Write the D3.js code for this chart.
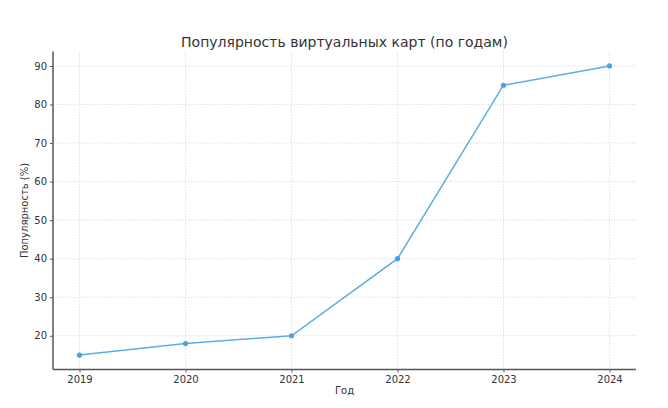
<!DOCTYPE html>
<html><head><meta charset="utf-8">
<script src="https://cdn.jsdelivr.net/npm/d3@7"></script>
<style>body{margin:0;background:#fff}svg{display:block}text{font-family:"DejaVu Sans",sans-serif}</style>
</head><body><svg id="c" width="668" height="408"></svg>
<script>
const years = [2019, 2020, 2021, 2022, 2023, 2024];
const popularity = [15, 18, 20, 40, 85, 90];
const yTicks = [20, 30, 40, 50, 60, 70, 80, 90];
const title = "Популярность виртуальных карт (по годам)";
const xLabel = "Год";
const yLabel = "Популярность (%)";

const svg = d3.select("#c");
const L = 53, R = 636, T = 51.5, B = 369.5;
const x = d3.scaleLinear().domain([2018.75, 2024.25]).range([L, R]);
const y = d3.scaleLinear().domain([11.25, 93.75]).range([B, T]);
const data = years.map((yr, i) => ({yr, v: popularity[i]}));

// grid
svg.append("g").selectAll("line").data(yTicks).join("line")
  .attr("x1", L).attr("x2", R).attr("y1", d => y(d)).attr("y2", d => y(d))
  .attr("stroke", "#d9d9d9").attr("stroke-width", 0.8).attr("stroke-dasharray", "1.5,1.5");
svg.append("g").selectAll("line").data(years).join("line")
  .attr("y1", T).attr("y2", B).attr("x1", d => x(d)).attr("x2", d => x(d))
  .attr("stroke", "#d9d9d9").attr("stroke-width", 0.8).attr("stroke-dasharray", "1.5,1.5");

// axes
const xAxis = svg.append("g").attr("transform", `translate(0,${B})`)
  .call(d3.axisBottom(x).tickValues(years).tickFormat(d3.format("d")).tickSize(3).tickPadding(3));
const yAxis = svg.append("g").attr("transform", `translate(${L},0)`)
  .call(d3.axisLeft(y).tickValues(yTicks).tickSize(3).tickPadding(3));
[xAxis, yAxis].forEach(g => {
  g.select(".domain").attr("stroke", "#555").attr("stroke-width", 1.5);
  g.selectAll(".tick line").attr("stroke", "#555");
  g.selectAll(".tick text").attr("fill", "#333").style("font-size", "10px").style("font-family", "DejaVu Sans");
});
xAxis.select(".domain").attr("d", `M${L},0H${R}`);
yAxis.select(".domain").attr("d", `M0,${T}V${B}`);

// line
svg.append("path").datum(data)
  .attr("d", d3.line().x(d => x(d.yr)).y(d => y(d.v)))
  .attr("fill", "none").attr("stroke", "#5aaee6").attr("stroke-width", 1.5);
svg.append("g").selectAll("circle").data(data).join("circle")
  .attr("cx", d => x(d.yr)).attr("cy", d => y(d.v)).attr("r", 2.6)
  .attr("fill", "#4aa3e3");

// labels
svg.append("text").attr("x", (L + R) / 2).attr("y", 47).attr("text-anchor", "middle")
  .style("font-size", "14px").attr("fill", "#333").text(title);
svg.append("text").attr("x", (L + R) / 2).attr("y", 394).attr("text-anchor", "middle")
  .style("font-size", "10px").attr("fill", "#333").text(xLabel);
svg.append("text").attr("transform", `translate(28,${(T + B) / 2}) rotate(-90)`).attr("text-anchor", "middle")
  .style("font-size", "10px").attr("fill", "#333").text(yLabel);
</script></body></html>
